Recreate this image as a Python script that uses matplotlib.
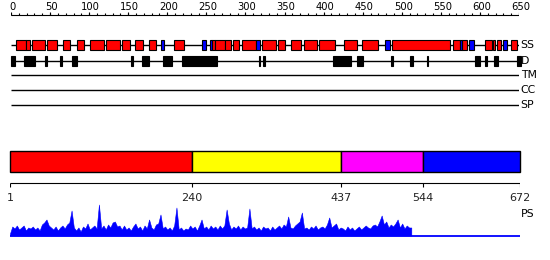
import matplotlib
matplotlib.use('Agg')
import matplotlib.pyplot as plt
import numpy as np

# ---------------- data ----------------
seq_len_top = 650
ruler_minor = list(range(0, 651, 10))
ruler_major = [0, 50, 100, 150, 200, 250, 300, 350, 400, 450, 500, 550, 600, 650]

ss_red = [(6, 19), (19, 24), (27, 43), (46, 59), (66, 76), (84, 94), (101, 119),
          (122, 139), (142, 152), (159, 169), (176, 186), (208, 221), (257, 261),
          (261, 274), (274, 282), (284, 292), (296, 314), (321, 339), (341, 351),
          (358, 371), (375, 392), (394, 414), (426, 443), (449, 470), (488, 562),
          (566, 574), (577, 583), (606, 615), (617, 619), (622, 627), (640, 648)]
ss_blue = [(192, 196), (244, 249), (254, 257), (314, 319), (479, 485),
           (574, 577), (586, 592), (629, 635)]
d_boxes = [(0, 5), (17, 31), (44, 46), (63, 65), (78, 84), (154, 156), (168, 177),
           (195, 206), (219, 241), (241, 263), (317, 319), (322, 325), (412, 435),
           (443, 450), (486, 489), (510, 514), (532, 534), (594, 600), (606, 609),
           (618, 623), (648, 652)]
track_names = ["SS", "D", "TM", "CC", "SP"]

domain_bounds = [1, 240, 437, 544, 672]
domain_colors = ["#ff0000", "#ffff00", "#ff00ff", "#0000ff"]

ps_step = 3
ps_vals = [2, 9, 7, 10, 6, 8, 10, 5, 8, 7,
           9, 6, 8, 5, 11, 13, 16, 10, 8, 6,
           9, 5, 8, 10, 7, 11, 13, 25, 8, 5,
           8, 4, 9, 7, 12, 6, 8, 10, 7, 31,
           7, 10, 6, 11, 8, 13, 14, 9, 10, 6,
           10, 6, 8, 5, 9, 12, 7, 9, 5, 10,
           7, 16, 8, 6, 11, 12, 21, 7, 9, 6,
           8, 5, 10, 28, 6, 8, 5, 7, 6, 10,
           7, 9, 5, 10, 16, 7, 9, 6, 10, 7,
           9, 6, 10, 7, 10, 26, 12, 6, 9, 7,
           10, 6, 9, 7, 8, 27, 7, 9, 6, 8,
           5, 9, 7, 8, 5, 9, 6, 8, 10, 7,
           11, 9, 19, 8, 7, 10, 12, 14, 23, 7,
           8, 6, 9, 7, 10, 6, 8, 9, 7, 11,
           18, 8, 10, 12, 6, 8, 7, 5, 9, 6,
           8, 5, 7, 9, 6, 8, 10, 8, 7, 10,
           11, 9, 14, 20, 11, 14, 8, 11, 9, 12,
           16, 8, 12, 7, 10, 8, 8]

W, H = 550, 260
fig = plt.figure(figsize=(5.5, 2.6), dpi=100)

def px_axes(x0, x1, y0=0, y1=H):
    ax = fig.add_axes([x0 / W, 1 - y1 / H, (x1 - x0) / W, (y1 - y0) / H])
    ax.axis('off')
    return ax

# ---------------- top feature tracks ----------------
ax = px_axes(11, 519)
ax.set_xlim(0, seq_len_top)
ax.set_ylim(H, 0)

# ruler
ax.hlines(15, 0, seq_len_top, color='black', lw=0.8)
ax.vlines(ruler_minor, 13, 15, color='black', lw=0.8)
ax.vlines(ruler_major, 11.5, 15, color='black', lw=0.8)
for v in ruler_major:
    ax.text(v + 2, 12, str(v), ha='center', va='bottom', fontsize=7.2,
            family='DejaVu Sans', color='black')

track_y = [45, 60.5, 75, 90, 105]
for y in track_y:
    ax.hlines(y, 0, seq_len_top, color='black', lw=1.0, zorder=1)
for name, y in zip(track_names, track_y):
    ax.text(seq_len_top + 2, y, name, ha='left', va='center', fontsize=7.8,
            family='DejaVu Sans', color='black', clip_on=False)

def boxes(items, y0, h, color):
    starts = [a for a, b in items]
    widths = [b - a for a, b in items]
    ax.bar(starts, [h] * len(items), width=widths, bottom=y0, align='edge',
           color=color, edgecolor='black', linewidth=0.8, zorder=3, clip_on=False)

boxes(ss_red, 40, 10, '#ff0000')
boxes(ss_blue, 40, 10, '#0000ff')
boxes(d_boxes, 55.5, 10, '#000000')

# ---------------- domain bar ----------------
axd = px_axes(10, 520)
axd.set_xlim(domain_bounds[0], domain_bounds[-1])
axd.set_ylim(H, 0)
starts = domain_bounds[:-1]
widths = np.diff(domain_bounds)
axd.bar(starts, [20.5] * len(starts), width=widths, bottom=151, align='edge',
        color=domain_colors, edgecolor='black', linewidth=1.0, clip_on=False)
axd.hlines(183, domain_bounds[0], domain_bounds[-1], color='black', lw=0.8)
axd.vlines(domain_bounds, 183, 187, color='black', lw=0.8)
for v in domain_bounds:
    axd.text(v, 198, str(v), ha='center', va='center', fontsize=8,
             family='DejaVu Sans', color='#222222', clip_on=False)

# ---------------- PS profile ----------------
axp = px_axes(10, 520, 195, 240)
axp.set_xlim(domain_bounds[0], domain_bounds[-1])
axp.set_ylim(-4.5, 40.5)
ps_pos = np.arange(len(ps_vals)) * ps_step + 1
axp.fill_between(ps_pos, 0, ps_vals, color='#0000ff', lw=0.4)
axp.axhline(0, color='#0000ff', lw=1.3, zorder=3)
fig.text(521 / W, 1 - 214 / H, "PS", ha='left', va='center', fontsize=7.8,
         family='DejaVu Sans', color='black')

fig.savefig('out.png', dpi=100)
